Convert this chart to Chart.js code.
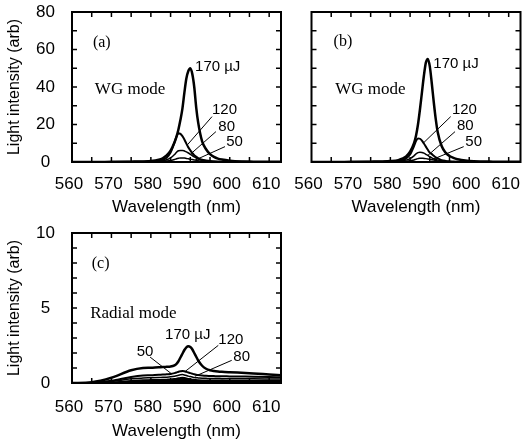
<!DOCTYPE html>
<html>
<head>
<meta charset="utf-8">
<script src="https://cdn.jsdelivr.net/npm/chart.js@4.4.0/dist/chart.umd.min.js"></script>
<style>
html, body { margin: 0; padding: 0; background: #fff; width: 523px; height: 439px; overflow: hidden; }
canvas { position: absolute; }
</style>
</head>
<body>
<canvas id="chartA" width="290" height="222" style="left:0px;top:0px"></canvas>
<canvas id="chartB" width="233" height="222" style="left:290px;top:0px"></canvas>
<canvas id="chartC" width="290" height="225" style="left:0px;top:221px"></canvas>
<script>
// wavelength grid shared by every spectrum (nm)
const wavelengths = [560, 565, 570, 575, 578, 580, 582, 583, 584, 585, 586, 586.5, 587, 587.5, 588, 588.5, 589, 589.5, 590, 590.5, 591, 591.5, 592, 593, 594, 595, 596, 597, 598, 600, 603, 606, 610, 613];

// (a) WG mode
const a170 = [0, 0, 0.1, 0.2, 0.3, 0.5, 1.2, 2.0, 3.5, 6.0, 10.5, 13.5, 17.5, 22.5, 28.5, 37, 44.5, 48.5, 50, 47, 40, 29, 21, 11, 6.8, 4.2, 2.7, 1.8, 1.3, 0.7, 0.3, 0.2, 0.1, 0.1];
const a120 = [0, 0, 0, 0.1, 0.2, 0.3, 0.7, 1.2, 2.3, 5.0, 10.5, 13.5, 15.3, 15.0, 13.8, 12, 9.8, 7.8, 6.2, 4.8, 3.6, 2.8, 2.1, 1.2, 0.8, 0.5, 0.4, 0.3, 0.2, 0.1, 0.1, 0, 0, 0];
const a80 = [0, 0, 0, 0, 0.1, 0.2, 0.4, 0.7, 1.2, 2.2, 4.0, 5.2, 6.0, 6.2, 6.2, 5.9, 5.4, 4.8, 4.1, 3.4, 2.7, 2.1, 1.6, 0.9, 0.5, 0.3, 0.2, 0.1, 0.1, 0, 0, 0, 0, 0];
const a50 = [0, 0, 0, 0, 0, 0.1, 0.2, 0.3, 0.5, 0.8, 1.3, 1.7, 2.0, 2.2, 2.2, 2.1, 1.9, 1.7, 1.5, 1.3, 1.1, 0.9, 0.7, 0.5, 0.3, 0.2, 0.1, 0.1, 0, 0, 0, 0, 0, 0];

// (b) WG mode
const b170 = [0, 0, 0.1, 0.2, 0.3, 0.5, 1.0, 1.8, 3.0, 5.5, 10, 14, 20, 28, 37, 46, 53, 55, 51, 42, 32, 23, 16, 8.5, 5, 3.2, 2.2, 1.5, 1.1, 0.6, 0.3, 0.2, 0.1, 0.1];
const b120 = [0, 0, 0, 0.1, 0.2, 0.3, 0.6, 1.0, 1.9, 4.0, 8.5, 11.2, 12.6, 12.4, 11.4, 9.9, 8.2, 6.5, 5.0, 4.2, 3.3, 2.5, 1.9, 1.0, 0.6, 0.4, 0.3, 0.2, 0.1, 0.1, 0, 0, 0, 0];
const b80 = [0, 0, 0, 0, 0.1, 0.2, 0.3, 0.6, 1.0, 1.8, 3.3, 4.3, 5.0, 5.2, 5.1, 4.7, 4.1, 3.5, 2.8, 2.2, 1.7, 1.3, 1.0, 0.6, 0.3, 0.2, 0.1, 0.1, 0, 0, 0, 0, 0, 0];
const b50 = [0, 0, 0, 0, 0, 0.1, 0.2, 0.3, 0.4, 0.7, 1.1, 1.5, 1.8, 2.0, 2.0, 1.9, 1.8, 1.6, 1.4, 1.2, 1.0, 0.8, 0.6, 0.4, 0.3, 0.2, 0.1, 0.1, 0, 0, 0, 0, 0, 0];

// (c) radial mode
const c170 = [0, 0.05, 0.35, 0.85, 1.0, 1.02, 1.05, 1.06, 1.08, 1.1, 1.18, 1.28, 1.45, 1.7, 1.95, 2.2, 2.38, 2.45, 2.4, 2.25, 2.0, 1.75, 1.5, 1.15, 0.95, 0.85, 0.8, 0.77, 0.75, 0.72, 0.68, 0.64, 0.57, 0.52];
const c120 = [0, 0.02, 0.15, 0.4, 0.5, 0.52, 0.55, 0.56, 0.58, 0.6, 0.66, 0.7, 0.75, 0.78, 0.8, 0.78, 0.74, 0.7, 0.66, 0.62, 0.58, 0.55, 0.53, 0.5, 0.48, 0.47, 0.46, 0.45, 0.45, 0.44, 0.43, 0.42, 0.4, 0.38];
const c80 = [0, 0.01, 0.1, 0.28, 0.33, 0.35, 0.37, 0.38, 0.39, 0.41, 0.45, 0.48, 0.52, 0.55, 0.56, 0.54, 0.5, 0.46, 0.43, 0.4, 0.37, 0.35, 0.34, 0.32, 0.31, 0.3, 0.3, 0.3, 0.29, 0.29, 0.28, 0.28, 0.27, 0.26];
const c50 = [0, 0, 0.05, 0.15, 0.2, 0.21, 0.22, 0.23, 0.24, 0.25, 0.28, 0.3, 0.33, 0.35, 0.36, 0.35, 0.32, 0.29, 0.26, 0.24, 0.22, 0.21, 0.2, 0.19, 0.19, 0.18, 0.18, 0.18, 0.18, 0.17, 0.17, 0.17, 0.16, 0.16];

// tick labels
const xTicks = [560, 570, 580, 590, 600, 610];
const yTicksWG = [0, 20, 40, 60, 80];
const yTicksRadial = [0, 5, 10];

// pump energies, same order as the series
const energies = ['170 µJ', '120', '80', '50'];

function spectrum(values, width, fill) {
    return {
        data: wavelengths.map((w, i) => ({ x: w, y: values[i] })),
        borderColor: '#000',
        backgroundColor: '#000',
        borderWidth: width,
        pointRadius: 0,
        cubicInterpolationMode: 'monotone',
        fill: fill ? 'origin' : false
    };
}

function leader(seg) {
    return {
        data: seg.map(p => ({ x: p[0], y: p[1] })),
        borderColor: '#000',
        borderWidth: 1,
        pointRadius: 0,
        fill: false
    };
}

// box with inward ticks on all four sides + text notes placed in data units
function frame(extra) {
    return {
        id: 'frame',
        afterDraw(chart) {
            const { ctx, chartArea: a, scales: { x, y } } = chart;
            ctx.save();
            ctx.strokeStyle = '#000';
            ctx.lineWidth = 1.5;
            ctx.beginPath();
            for (let v = 565; v <= 610; v += 5) {
                const px = x.getPixelForValue(v);
                ctx.moveTo(px, a.bottom); ctx.lineTo(px, a.bottom - 5);
                ctx.moveTo(px, a.top); ctx.lineTo(px, a.top + 5);
            }
            for (let v = extra.yMinor; v < y.max; v += extra.yMinor) {
                const py = y.getPixelForValue(v);
                ctx.moveTo(a.left, py); ctx.lineTo(a.left + 5, py);
                ctx.moveTo(a.right, py); ctx.lineTo(a.right - 5, py);
            }
            ctx.stroke();
            ctx.lineWidth = 2;
            ctx.strokeRect(a.left, a.top, a.width, a.height);

            ctx.fillStyle = '#000';
            ctx.textBaseline = 'middle';
            ctx.textAlign = 'left';
            ctx.font = '16px "Liberation Serif", serif';
            ctx.fillText(extra.tag[0], x.getPixelForValue(extra.tag[1]), y.getPixelForValue(extra.tag[2]));
            ctx.font = '17px "Liberation Serif", serif';
            ctx.fillText(extra.mode[0], x.getPixelForValue(extra.mode[1]), y.getPixelForValue(extra.mode[2]));
            ctx.font = '15px "Liberation Sans", Arial, sans-serif';
            energies.forEach((t, i) => {
                const p = extra.labelPos[i];
                ctx.fillText(t, x.getPixelForValue(p[0]), y.getPixelForValue(p[1]));
            });
            ctx.restore();
        }
    };
}

Chart.defaults.font.family = '"Liberation Sans", Arial, sans-serif';
Chart.defaults.color = '#000';

function drawPanel(id, series, leaders, yMax, yTicks, showY, yWidth, padRight, xHeight, xPad, extra) {
    const ctx = document.getElementById(id).getContext('2d');
    const config = {
        type: 'line',
        data: {
            datasets: [
                spectrum(series[0], 2.5, false),
                spectrum(series[1], 2, false),
                spectrum(series[2], 1.5, false),
                spectrum(series[3], 1.5, extra.fillLow)
            ].concat(leaders.map(leader))
        },
        options: {
            responsive: false,
            animation: false,
            layout: { padding: { top: 12, right: padRight, left: 0, bottom: 0 } },
            scales: {
                x: {
                    type: 'linear',
                    min: 560,
                    max: 613,
                    grid: { display: false, drawTicks: false },
                    border: { display: false },
                    afterBuildTicks: axis => { axis.ticks = xTicks.map(v => ({ value: v })); },
                    ticks: { padding: xPad, labelOffset: -3, autoSkip: false, maxRotation: 0, font: { size: 17 } },
                    title: { display: true, text: 'Wavelength (nm)', font: { size: 17 }, padding: { top: 0, bottom: 4 } },
                    afterFit: axis => {
                        axis.height = xHeight;
                        // labels may hang past the box, keep the plot area fixed
                        axis.paddingLeft = 0;
                        axis.paddingRight = 0;
                    }
                },
                y: {
                    type: 'linear',
                    min: 0,
                    max: yMax,
                    grid: { display: false, drawTicks: false },
                    border: { display: false },
                    afterBuildTicks: axis => { axis.ticks = yTicks.map(v => ({ value: v })); },
                    ticks: { display: showY, padding: 17, crossAlign: 'center', font: { size: 17 } },
                    title: { display: showY, text: 'Light intensity (arb)', font: { size: 16 }, padding: { top: 5, bottom: 0 } },
                    afterFit: axis => {
                        axis.width = yWidth;
                        axis.paddingTop = 0;
                        axis.paddingBottom = 0;
                    }
                }
            },
            plugins: {
                legend: { display: false },
                tooltip: { enabled: false }
            }
        },
        plugins: [frame(extra)]
    };
    new Chart(ctx, config);
}

drawPanel('chartA', [a170, a120, a80, a50],
    [[[595.5, 24.2], [589.2, 9.0]], [[596.5, 16.2], [590, 4.1]], [[598.8, 8.2], [591.2, 1.0]]],
    80, yTicksWG, true, 72, 9, 60, 12,
    { yMinor: 10, tag: ['(a)', 565.3, 63.5], mode: ['WG mode', 565.8, 38.4],
      labelPos: [[591.2, 50.8], [595.5, 27.7], [597.1, 18.8], [599.1, 10.8]], fillLow: false });

drawPanel('chartB', [b170, b120, b80, b50],
    [[[595.3, 24.2], [588.4, 10.2]], [[596.4, 16.2], [589.5, 3.5]], [[598.6, 8.2], [590.5, 1.2]]],
    80, yTicksWG, false, 21.5, 2.5, 60, 12,
    { yMinor: 10, tag: ['(b)', 565.6, 64], mode: ['WG mode', 566.0, 38.8],
      labelPos: [[590.9, 52.6], [595.6, 27.7], [596.9, 19.2], [599, 10.8]], fillLow: false });

drawPanel('chartC', [c170, c120, c80, c50],
    [[[597.1, 2.51], [588.7, 0.77]], [[600.5, 1.51], [591.2, 0.45]], [[579.8, 1.73], [585.3, 0.6]]],
    10, yTicksRadial, true, 72, 9, 63, 14,
    { yMinor: 1, tag: ['(c)', 565.0, 7.96], mode: ['Radial mode', 564.6, 4.6],
      labelPos: [[583.6, 3.18], [597.1, 2.85], [600.9, 1.73], [576.4, 2.07]], fillLow: true });
</script>
</body>
</html>
